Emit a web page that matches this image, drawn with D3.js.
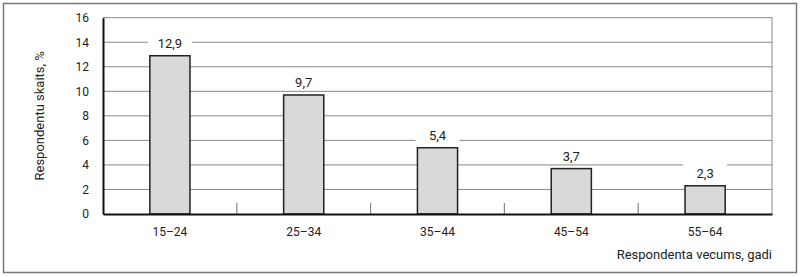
<!DOCTYPE html>
<html>
<head>
<meta charset="utf-8">
<script src="https://d3js.org/d3.v7.min.js"></script>
<style>
  body { margin: 0; background: #fff; }
  text { font-family: Roboto, "Liberation Sans", sans-serif; fill: #222; }
</style>
</head>
<body>
<svg width="800" height="277"></svg>
<script>
var categories = ["15–24", "25–34", "35–44", "45–54", "55–64"];
var values = [12.9, 9.7, 5.4, 3.7, 2.3];
var yTicks = [0, 2, 4, 6, 8, 10, 12, 14, 16];
var yTitle = "Respondentu skaits, %";
var xTitle = "Respondenta vecums, gadi";

var svg = d3.select("svg");
var plot = {left: 103, right: 772, top: 17.7, bottom: 214};

// outer frame
svg.append("rect")
  .attr("x", 3.5).attr("y", 3.5)
  .attr("width", 793).attr("height", 269)
  .attr("fill", "none").attr("stroke", "#777").attr("stroke-width", 1.5);

var x = d3.scaleBand().domain(categories)
  .range([plot.left, plot.right]).paddingInner(0.7).paddingOuter(0.35);
var y = d3.scaleLinear().domain([0, 16]).range([plot.bottom, plot.top]);

// gridlines
svg.append("g").selectAll("line")
  .data(yTicks.filter(function(d){ return d > 0; }))
  .enter().append("line")
  .attr("x1", plot.left).attr("x2", plot.right)
  .attr("y1", function(d){ return y(d); }).attr("y2", function(d){ return y(d); })
  .attr("stroke", "#888").attr("stroke-width", 1);

// right border
svg.append("line")
  .attr("x1", plot.right).attr("x2", plot.right)
  .attr("y1", y(16)).attr("y2", plot.bottom)
  .attr("stroke", "#888").attr("stroke-width", 1);

// separator ticks between categories
var gap = (x.step() - x.bandwidth()) / 2;
svg.append("g").selectAll("line")
  .data(categories.slice(1))
  .enter().append("line")
  .attr("x1", function(d){ return x(d) - gap; })
  .attr("x2", function(d){ return x(d) - gap; })
  .attr("y1", plot.bottom).attr("y2", plot.bottom - 11)
  .attr("stroke", "#888").attr("stroke-width", 1.2);

// bars
svg.append("g").selectAll("rect")
  .data(values)
  .enter().append("rect")
  .attr("x", function(d, i){ return x(categories[i]); })
  .attr("y", function(d){ return y(d); })
  .attr("width", x.bandwidth())
  .attr("height", function(d){ return plot.bottom - y(d); })
  .attr("fill", "#d9d9d9").attr("stroke", "#222").attr("stroke-width", 1.5);

// value labels with white background
var labels = svg.append("g").selectAll("g")
  .data(values)
  .enter().append("g")
  .attr("transform", function(d, i){
    return "translate(" + (x(categories[i]) + x.bandwidth() / 2) + "," + (y(d) - 8) + ")";
  });
labels.append("rect")
  .attr("x", -22).attr("y", -14).attr("width", 44).attr("height", 17)
  .attr("fill", "#fff");
labels.append("text")
  .attr("text-anchor", "middle")
  .attr("font-size", 13)
  .text(function(d){ return String(d).replace(".", ","); });

// y axis
var yAxis = d3.axisLeft(y).tickValues(yTicks).tickSize(0).tickPadding(14);
var yg = svg.append("g").attr("transform", "translate(" + plot.left + ",0)").call(yAxis);
yg.select(".domain").attr("stroke", "#111").attr("stroke-width", 2);
yg.selectAll("text").attr("font-size", 12).style("font-family", "Roboto, sans-serif").attr("fill", "#222");

// x axis
var xAxis = d3.axisBottom(x).tickSize(0).tickPadding(13);
var xg = svg.append("g").attr("transform", "translate(0," + plot.bottom + ")").call(xAxis);
xg.select(".domain").attr("stroke", "#111").attr("stroke-width", 2.2);
xg.selectAll("text").attr("font-size", 12).style("font-family", "Roboto, sans-serif").attr("fill", "#222");

// titles
svg.append("text")
  .attr("transform", "translate(44," + ((plot.top + plot.bottom) / 2) + ") rotate(-90)")
  .attr("text-anchor", "middle")
  .attr("font-size", 13)
  .text(yTitle);
svg.append("text")
  .attr("x", plot.right).attr("y", 259)
  .attr("text-anchor", "end")
  .attr("font-size", 13)
  .text(xTitle);
</script>
</body>
</html>
